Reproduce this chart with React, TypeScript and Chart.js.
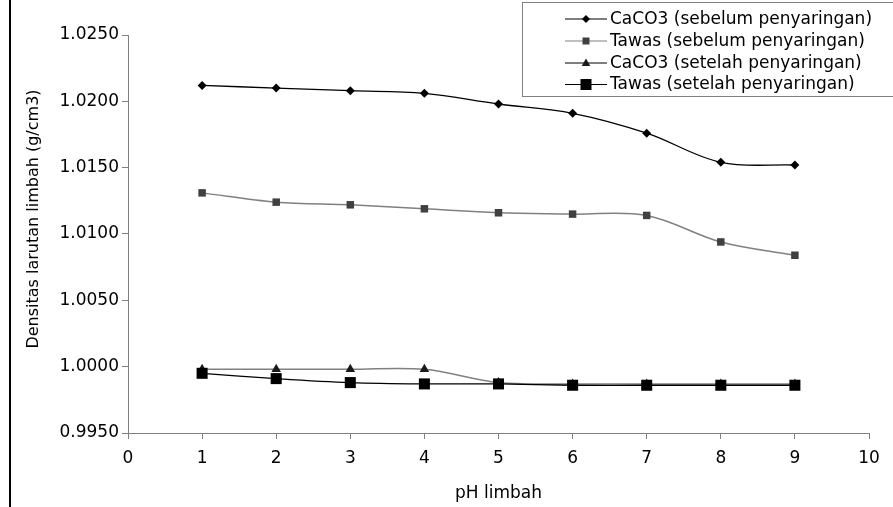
import React, { useEffect, useRef } from 'react';
import { Chart, registerables } from 'chart.js';

Chart.register(...registerables);

// ---- data ----
const phValues = [1, 2, 3, 4, 5, 6, 7, 8, 9];
const caco3Sebelum = [1.0212, 1.021, 1.0208, 1.0206, 1.0198, 1.0191, 1.0176, 1.0154, 1.0152];
const tawasSebelum = [1.0131, 1.0124, 1.0122, 1.0119, 1.0116, 1.0115, 1.0114, 1.0094, 1.0084];
const caco3Setelah = [0.9998, 0.9998, 0.9998, 0.9998, 0.9988, 0.9987, 0.9987, 0.9987, 0.9987];
const tawasSetelah = [0.9995, 0.9991, 0.9988, 0.9987, 0.9987, 0.9986, 0.9986, 0.9986, 0.9986];
const seriesLabels = [
  'CaCO3 (sebelum penyaringan)',
  'Tawas (sebelum penyaringan)',
  'CaCO3 (setelah penyaringan)',
  'Tawas (setelah penyaringan)',
];
const xTicks = [0, 1, 2, 3, 4, 5, 6, 7, 8, 9, 10];
const yTicks = [0.995, 1.0, 1.005, 1.01, 1.015, 1.02, 1.025];
const xTitle = 'pH limbah';
const yTitle = 'Densitas larutan limbah (g/cm3)';

const FONT = '"DejaVu Sans", "Liberation Sans", Arial, sans-serif';

const toPoints = (ys: number[]) => ys.map((y, i) => ({ x: phValues[i], y }));

// legend marker styles (per series)
const legendStyles = [
  { line: '#000000', fill: '#000000', shape: 'diamond', size: 4 },
  { line: '#808080', fill: '#404040', shape: 'square', size: 3.5 },
  { line: '#000000', fill: '#1a1a1a', shape: 'triangle', size: 4.5 },
  { line: '#000000', fill: '#000000', shape: 'square', size: 5.5 },
];

function drawMarker(ctx: CanvasRenderingContext2D, shape: string, x: number, y: number, s: number) {
  ctx.beginPath();
  if (shape === 'diamond') {
    ctx.moveTo(x - s, y);
    ctx.lineTo(x, y - s);
    ctx.lineTo(x + s, y);
    ctx.lineTo(x, y + s);
  } else if (shape === 'square') {
    ctx.rect(x - s, y - s, 2 * s, 2 * s);
  } else {
    ctx.moveTo(x, y - s);
    ctx.lineTo(x + s * 0.95, y + s * 0.65);
    ctx.lineTo(x - s * 0.95, y + s * 0.65);
  }
  ctx.closePath();
  ctx.fill();
}

const decorPlugin = {
  id: 'decor',
  afterDraw(chart: any) {
    const ctx: CanvasRenderingContext2D = chart.ctx;
    ctx.save();
    // left frame line
    ctx.fillStyle = '#000';
    ctx.fillRect(9, 0, 2, chart.height);

    // y-axis title
    ctx.save();
    ctx.translate(34, 219);
    ctx.rotate(-Math.PI / 2);
    ctx.fillStyle = '#000';
    ctx.font = `16px ${FONT}`;
    ctx.textAlign = 'center';
    ctx.textBaseline = 'middle';
    ctx.fillText(yTitle, 0, 0);
    ctx.restore();

    // legend box
    const bx = 522.5;
    const by = 2.5;
    const bw = chart.width - bx + 10;
    const bh = 94;
    ctx.fillStyle = '#fff';
    ctx.fillRect(bx, by, bw, bh);
    ctx.strokeStyle = '#808080';
    ctx.lineWidth = 1;
    ctx.strokeRect(bx, by, bw, bh);

    const rows = [18.5, 40.5, 62.5, 84];
    ctx.font = `17px ${FONT}`;
    ctx.textAlign = 'left';
    ctx.textBaseline = 'middle';
    seriesLabels.forEach((label, i) => {
      const st = legendStyles[i];
      const y = rows[i];
      ctx.strokeStyle = st.line;
      ctx.lineWidth = 1.2;
      ctx.beginPath();
      ctx.moveTo(565, y + 0.5);
      ctx.lineTo(607, y + 0.5);
      ctx.stroke();
      ctx.fillStyle = st.fill;
      drawMarker(ctx, st.shape, 586, y + 0.5, st.size);
      ctx.fillStyle = '#000';
      ctx.fillText(label, 610, y + 1);
    });
    ctx.restore();
  },
};

export default function App() {
  const canvasRef = useRef<HTMLCanvasElement | null>(null);

  useEffect(() => {
    const canvas = canvasRef.current;
    if (!canvas) return;
    const chart = new Chart(canvas, {
      type: 'line',
      data: {
        datasets: [
          {
            label: seriesLabels[0],
            data: toPoints(caco3Sebelum),
            borderColor: '#000000',
            borderWidth: 1.3,
            pointStyle: 'rectRot',
            pointRadius: 4.5,
            pointBackgroundColor: '#000000',
            pointBorderColor: '#000000',
            pointBorderWidth: 0,
            tension: 0.35,
            order: 3,
          },
          {
            label: seriesLabels[1],
            data: toPoints(tawasSebelum),
            borderColor: '#808080',
            borderWidth: 1.5,
            pointStyle: 'rect',
            pointRadius: 5.3,
            pointBackgroundColor: '#404040',
            pointBorderColor: '#404040',
            pointBorderWidth: 0,
            tension: 0.35,
            order: 2,
          },
          {
            label: seriesLabels[2],
            data: toPoints(caco3Setelah),
            borderColor: '#808080',
            borderWidth: 1.5,
            pointStyle: 'triangle',
            pointRadius: 5.5,
            pointBackgroundColor: '#1a1a1a',
            pointBorderColor: '#1a1a1a',
            pointBorderWidth: 0,
            tension: 0.35,
            order: 1,
          },
          {
            label: seriesLabels[3],
            data: toPoints(tawasSetelah),
            borderColor: '#000000',
            borderWidth: 1.3,
            pointStyle: 'rect',
            pointRadius: 7.8,
            pointBackgroundColor: '#000000',
            pointBorderColor: '#000000',
            pointBorderWidth: 0,
            tension: 0.35,
            order: 0,
          },
        ],
      },
      options: {
        animation: false,
        responsive: false,
        devicePixelRatio: 1,
        layout: { padding: { left: 0, top: 35, right: 24, bottom: 0 } },
        plugins: {
          legend: { display: false },
          tooltip: { enabled: false },
        },
        scales: {
          x: {
            type: 'linear',
            min: 0,
            max: 10,
            afterBuildTicks: (scale: any) => {
              scale.ticks = xTicks.map((v) => ({ value: v }));
            },
            afterFit: (scale: any) => {
              scale.height = 74;
            },
            ticks: {
              color: '#000',
              font: { family: FONT, size: 17 },
              padding: 9,
              maxRotation: 0,
              autoSkip: false,
              callback: (v: any) => String(v),
            },
            grid: {
              display: true,
              drawOnChartArea: false,
              drawTicks: true,
              tickLength: 6,
              color: '#808080',
            },
            border: { display: true, color: '#808080', width: 1 },
            title: {
              display: true,
              text: xTitle,
              color: '#000',
              font: { family: FONT, size: 17 },
              padding: { top: 0, bottom: 3 },
            },
          },
          y: {
            type: 'linear',
            min: 0.995,
            max: 1.025,
            afterBuildTicks: (scale: any) => {
              scale.ticks = yTicks.map((v) => ({ value: v }));
            },
            afterFit: (scale: any) => {
              scale.width = 128;
            },
            ticks: {
              color: '#000',
              font: { family: FONT, size: 17 },
              padding: 3,
              autoSkip: false,
              callback: (v: any) => Number(v).toFixed(4),
            },
            grid: {
              display: true,
              drawOnChartArea: false,
              drawTicks: true,
              tickLength: 6,
              color: '#808080',
            },
            border: { display: true, color: '#808080', width: 1 },
          },
        },
      },
      plugins: [decorPlugin],
    } as any);
    return () => chart.destroy();
  }, []);

  return (
    <div style={{ position: 'absolute', left: 0, top: 0, width: 893, height: 507, background: '#fff' }}>
      <canvas ref={canvasRef} width={893} height={507} style={{ display: 'block' }} />
    </div>
  );
}
